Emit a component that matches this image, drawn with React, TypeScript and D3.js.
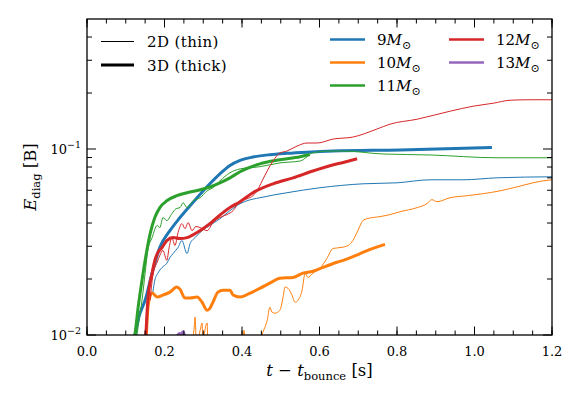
import React from "react";
import * as d3 from "d3";

// diagnostic explosion energy vs time after bounce, [t (s), E (B)]
const m9_2d: [number, number][] = [
  [0.17, 0.017], [0.175, 0.0197], [0.183, 0.0215], [0.194, 0.0231], [0.206, 0.0243],
  [0.214, 0.0261], [0.222, 0.0274], [0.235, 0.0296], [0.245, 0.0322], [0.258, 0.0274],
  [0.266, 0.031], [0.279, 0.0334], [0.297, 0.0364], [0.317, 0.0388], [0.343, 0.0422],
  [0.369, 0.0466], [0.395, 0.0508], [0.413, 0.0527], [0.446, 0.0547], [0.516, 0.0582],
  [0.601, 0.0619], [0.712, 0.065], [0.8, 0.0658], [0.885, 0.0683], [0.97, 0.0683],
  [1.058, 0.07], [1.2, 0.0709],
];
const m9_3d: [number, number][] = [
  [0.118, 0.008], [0.124, 0.01], [0.134, 0.0125], [0.15, 0.0154], [0.168, 0.0215],
  [0.188, 0.0296], [0.214, 0.0364], [0.24, 0.0428], [0.284, 0.0547], [0.317, 0.065],
  [0.343, 0.0735], [0.369, 0.0815], [0.395, 0.0868], [0.428, 0.0905], [0.472, 0.0932],
  [0.516, 0.0948], [0.568, 0.0962], [0.635, 0.0975], [0.808, 0.0988], [1.045, 0.1019],
];
const m10_2d: [number, number][] = [
  [0.22, 0.0085], [0.266, 0.0088], [0.276, 0.0106], [0.279, 0.0125], [0.281, 0.01],
  [0.284, 0.0088], [0.292, 0.0106], [0.297, 0.0116], [0.299, 0.0094], [0.307, 0.0113],
  [0.31, 0.0116], [0.312, 0.0088], [0.33, 0.0083], [0.4, 0.0088], [0.403, 0.0094],
  [0.405, 0.0106], [0.41, 0.0088], [0.446, 0.0088], [0.452, 0.01], [0.465, 0.012],
  [0.472, 0.0141], [0.477, 0.0133], [0.485, 0.0131], [0.498, 0.0136], [0.506, 0.016],
  [0.511, 0.0181], [0.519, 0.0178], [0.529, 0.0164], [0.537, 0.015], [0.545, 0.0154],
  [0.555, 0.0174], [0.563, 0.0215], [0.57, 0.0204], [0.583, 0.0215], [0.601, 0.0228],
  [0.619, 0.0258], [0.635, 0.0292], [0.658, 0.0296], [0.674, 0.0303], [0.686, 0.0322],
  [0.699, 0.0364], [0.712, 0.0412], [0.723, 0.0422], [0.756, 0.0433], [0.782, 0.0444],
  [0.808, 0.046], [0.852, 0.0484], [0.877, 0.0508], [0.89, 0.0534], [0.903, 0.0521],
  [0.937, 0.0547], [0.981, 0.0561], [1.022, 0.0575], [1.066, 0.0596], [1.11, 0.0626],
  [1.151, 0.0658], [1.177, 0.0674], [1.2, 0.0683],
];
const m10_3d: [number, number][] = [
  [0.152, 0.0088], [0.155, 0.012], [0.16, 0.0154], [0.168, 0.0168], [0.181, 0.016],
  [0.196, 0.0164], [0.214, 0.017], [0.232, 0.0181], [0.24, 0.0176], [0.253, 0.0158],
  [0.266, 0.0158], [0.284, 0.016], [0.297, 0.015], [0.31, 0.0136], [0.317, 0.0139],
  [0.325, 0.015], [0.338, 0.017], [0.351, 0.0174], [0.369, 0.0174], [0.377, 0.0164],
  [0.395, 0.016], [0.421, 0.0168], [0.446, 0.0178], [0.472, 0.019], [0.498, 0.0202],
  [0.532, 0.0204], [0.557, 0.0215], [0.583, 0.022], [0.609, 0.0231], [0.645, 0.0246],
  [0.661, 0.0252], [0.705, 0.0274], [0.738, 0.0292], [0.769, 0.0307],
];
const m11_2d: [number, number][] = [
  [0.125, 0.0085], [0.129, 0.01], [0.142, 0.0154], [0.15, 0.0215], [0.157, 0.0285],
  [0.168, 0.0334], [0.181, 0.0388], [0.188, 0.0378], [0.196, 0.0428], [0.206, 0.0412],
  [0.219, 0.0449], [0.23, 0.0478], [0.24, 0.0484], [0.248, 0.0514], [0.258, 0.0484],
  [0.274, 0.0527], [0.292, 0.0547], [0.31, 0.0596], [0.325, 0.0619], [0.343, 0.0674],
  [0.369, 0.0745], [0.395, 0.0782], [0.446, 0.0803], [0.498, 0.0842], [0.55, 0.0862],
  [0.568, 0.0909], [0.581, 0.0952], [0.627, 0.0975], [0.661, 0.0975], [0.764, 0.094],
  [0.885, 0.0929], [1.058, 0.0897], [1.2, 0.0897],
];
const m11_3d: [number, number][] = [
  [0.121, 0.0094], [0.124, 0.0102], [0.132, 0.0141], [0.142, 0.0197], [0.15, 0.0252],
  [0.163, 0.0351], [0.175, 0.0428], [0.188, 0.0484], [0.206, 0.0527], [0.232, 0.0561],
  [0.258, 0.0582], [0.292, 0.0604], [0.317, 0.0625], [0.343, 0.0658], [0.369, 0.07],
  [0.395, 0.0755], [0.446, 0.0832], [0.498, 0.0875], [0.55, 0.0909], [0.575, 0.0935],
];
const m12_2d: [number, number][] = [
  [0.163, 0.0154], [0.17, 0.0209], [0.181, 0.0246], [0.188, 0.0268], [0.196, 0.0285],
  [0.206, 0.0252], [0.212, 0.0296], [0.219, 0.0334], [0.227, 0.0303], [0.235, 0.0356],
  [0.245, 0.0397], [0.253, 0.0373], [0.261, 0.0402], [0.271, 0.0364], [0.281, 0.0383],
  [0.292, 0.0378], [0.31, 0.0364], [0.325, 0.0402], [0.343, 0.0428], [0.361, 0.0444],
  [0.377, 0.0466], [0.395, 0.0527], [0.413, 0.054], [0.428, 0.0561], [0.439, 0.0596],
  [0.452, 0.0674], [0.465, 0.0762], [0.48, 0.0862], [0.498, 0.0952], [0.516, 0.0975],
  [0.542, 0.1037], [0.568, 0.1077], [0.594, 0.1077], [0.635, 0.1131], [0.686, 0.1159],
  [0.748, 0.128], [0.782, 0.136], [0.852, 0.1446], [0.937, 0.1597], [0.996, 0.1698],
  [1.048, 0.1762], [1.092, 0.1829], [1.143, 0.184], [1.2, 0.184],
];
const m12_3d: [number, number][] = [
  [0.15, 0.0088], [0.152, 0.0102], [0.157, 0.0154], [0.168, 0.0215], [0.175, 0.0252],
  [0.183, 0.0278], [0.194, 0.0296], [0.206, 0.0322], [0.222, 0.0334], [0.24, 0.033],
  [0.258, 0.0334], [0.284, 0.0356], [0.299, 0.0373], [0.317, 0.0397], [0.335, 0.0428],
  [0.351, 0.0455], [0.369, 0.0484], [0.395, 0.0521], [0.428, 0.0582], [0.48, 0.065],
  [0.532, 0.07], [0.583, 0.0762], [0.627, 0.0813], [0.666, 0.0852], [0.697, 0.0887],
];
const m13_2d: [number, number][] = [
  [0.225, 0.009], [0.233, 0.0099], [0.238, 0.0101], [0.243, 0.0098], [0.25, 0.009],
];
const m13_3d: [number, number][] = [
  [0.22, 0.009], [0.232, 0.0098], [0.238, 0.0102], [0.243, 0.0101], [0.248, 0.0104],
  [0.252, 0.0099], [0.26, 0.009],
];

const masses = ["9", "10", "11", "12", "13"];
const colors = ["#1f77b4", "#ff7f0e", "#2ca02c", "#d62728", "#9467bd"];
const runs2d = [m9_2d, m10_2d, m11_2d, m12_2d, m13_2d];
const runs3d = [m9_3d, m10_3d, m11_3d, m12_3d, m13_3d];

const xTicks = [0, 0.2, 0.4, 0.6, 0.8, 1.0, 1.2];
const xMinor = d3.range(0, 1.2001, 0.05);
const yTicks = [0.01, 0.1];
const yMinor = [0.02, 0.03, 0.04, 0.05, 0.06, 0.07, 0.08, 0.09, 0.2, 0.3, 0.4];

const W = 581;
const H = 395;
const margin = { top: 19, right: 29, bottom: 60, left: 87 };
const FONT = "DejaVu Serif, serif";

export default function App() {
  const x = d3.scaleLinear().domain([0, 1.2]).range([margin.left, W - margin.right]);
  const y = d3.scaleLog().domain([0.01, 0.5]).range([H - margin.bottom, margin.top]);
  const line = d3
    .line<[number, number]>()
    .x((d) => x(d[0]))
    .y((d) => y(d[1]))
    .curve(d3.curveMonotoneX);

  const x0 = margin.left;
  const x1 = W - margin.right;
  const y0 = H - margin.bottom;
  const y1 = margin.top;

  return (
    <svg
      width={W}
      height={H}
      style={{ position: "absolute", left: 0, top: 0, background: "#fff", fontFamily: FONT }}
    >
      <defs>
        <clipPath id="plot">
          <rect x={x0} y={y1} width={x1 - x0} height={y0 - y1} />
        </clipPath>
      </defs>

      {/* data lines: each model thin 2D then thick 3D */}
      <g clipPath="url(#plot)" fill="none" strokeLinejoin="round">
        {masses.map((m, i) => (
          <g key={m}>
            <path d={line(runs2d[i]) || ""} stroke={colors[i]} strokeWidth={1} />
            <path d={line(runs3d[i]) || ""} stroke={colors[i]} strokeWidth={3} />
          </g>
        ))}
      </g>

      {/* ticks, inside on all four sides */}
      <g stroke="#000" strokeWidth={1}>
        {xMinor.map((t) => (
          <g key={"xm" + t}>
            <line x1={x(t)} x2={x(t)} y1={y0} y2={y0 - 4.5} />
            <line x1={x(t)} x2={x(t)} y1={y1} y2={y1 + 4.5} />
          </g>
        ))}
        {xTicks.map((t) => (
          <g key={"xM" + t}>
            <line x1={x(t)} x2={x(t)} y1={y0} y2={y0 - 8.5} />
            <line x1={x(t)} x2={x(t)} y1={y1} y2={y1 + 8.5} />
          </g>
        ))}
        {yMinor.map((v) => (
          <g key={"ym" + v}>
            <line x1={x0} x2={x0 + 5} y1={y(v)} y2={y(v)} />
            <line x1={x1} x2={x1 - 5} y1={y(v)} y2={y(v)} />
          </g>
        ))}
        {yTicks.map((v) => (
          <g key={"yM" + v}>
            <line x1={x0} x2={x0 + 9} y1={y(v)} y2={y(v)} />
            <line x1={x1} x2={x1 - 9} y1={y(v)} y2={y(v)} />
          </g>
        ))}
      </g>
      <rect x={x0} y={y1} width={x1 - x0} height={y0 - y1} fill="none" stroke="#000" strokeWidth={1.3} />

      {/* tick labels */}
      <g fontSize={13} fill="#000">
        {xTicks.map((t) => (
          <text key={"xl" + t} x={x(t)} y={y0 + 21} textAnchor="middle">
            {t.toFixed(1)}
          </text>
        ))}
        {yTicks.map((v) => (
          <text key={"yl" + v} x={x0 - 6} y={y(v) + 5} textAnchor="end">
            10
            <tspan fontSize={9.5} dy={-6}>
              {"\u2212" + Math.round(-Math.log10(v))}
            </tspan>
          </text>
        ))}
      </g>

      {/* axis labels */}
      <text x={(x0 + x1) / 2} y={376} textAnchor="middle" fontSize={16.5}>
        <tspan fontStyle="italic">t</tspan>
        <tspan>{" \u2212 "}</tspan>
        <tspan fontStyle="italic">t</tspan>
        <tspan fontSize={11.5} dy={4}>bounce</tspan>
        <tspan dy={-4}>{" [s]"}</tspan>
      </text>
      <text transform={`translate(36, ${(y0 + y1) / 2}) rotate(-90)`} textAnchor="middle" fontSize={16.5}>
        <tspan fontStyle="italic">E</tspan>
        <tspan fontSize={11.5} dy={4}>diag</tspan>
        <tspan dy={-4}>{" [B]"}</tspan>
      </text>

      {/* dimension legend */}
      <g fontSize={15} letterSpacing={0.4}>
        <line x1={101} x2={134} y1={41.5} y2={41.5} stroke="#000" strokeWidth={1} />
        <text x={147} y={46.5}>2D (thin)</text>
        <line x1={101} x2={134} y1={65} y2={65} stroke="#000" strokeWidth={3} />
        <text x={147} y={70.5}>3D (thick)</text>
      </g>

      {/* mass legend */}
      <g fontSize={15}>
        {masses.map((m, i) => {
          const col = i < 3 ? 0 : 1;
          const row = i < 3 ? i : i - 3;
          const lx = col === 0 ? 330 : 449;
          const ly = 39.5 + row * 23;
          return (
            <g key={"lg" + m}>
              <line x1={lx} x2={lx + 35} y1={ly} y2={ly} stroke={colors[i]} strokeWidth={2.5} />
              <text x={lx + 47} y={ly + 5.5}>
                {m}
                <tspan fontStyle="italic">M</tspan>
                <tspan fontSize={11} dy={4}>{"\u2299"}</tspan>
              </text>
            </g>
          );
        })}
      </g>
    </svg>
  );
}
